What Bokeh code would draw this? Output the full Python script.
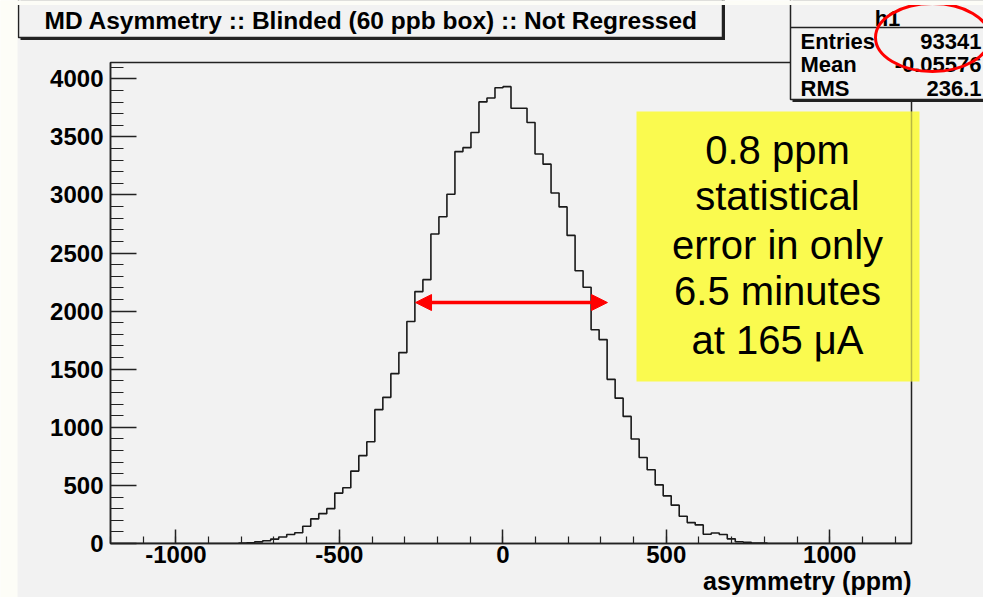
from bokeh.plotting import figure
from bokeh.models import (Range1d, SingleIntervalTicker, Arrow, NormalHead,
                          NumeralTickFormatter)
from bokeh.core.properties import value
from bokeh.embed import file_html
from bokeh.resources import INLINE

# ---------------- data ----------------
x_min, x_max = -1200.0, 1250.0
n_bins = 100
first_bin = 16
counts_nonzero = [
    3, 6, 14, 24, 38, 56, 78, 92, 148, 212,
    257, 300, 434, 480, 623, 756, 876, 1152, 1258, 1462,
    1643, 1911, 2168, 2271, 2664, 2812, 3006, 3373, 3407, 3538,
    3801, 3835, 3923, 3932, 3746, 3746, 3624, 3353, 3265, 3017,
    2897, 2652, 2348, 2205, 1840, 1755, 1413, 1251, 1094, 900,
    740, 635, 505, 410, 330, 235, 180, 160, 80, 90,
    78, 40, 15, 10, 4, 3,
]
y_max = 4140

title_text = "MD Asymmetry :: Blinded (60 ppb box) :: Not Regressed"
stats_name = "h1"
stats_labels = ["Entries", "Mean", "RMS"]
stats_values = ["93341", "-0.05576", "236.1"]
x_label = "asymmetry (ppm)"
note_lines = ["0.8 ppm", "statistical", "error in only", "6.5 minutes", "at 165 \u03bcA"]
arrow_x = [-267, 320]
arrow_y = 2074

counts = [0] * first_bin + counts_nonzero + [0] * (n_bins - first_bin - len(counts_nonzero))
bin_width = (x_max - x_min) / n_bins
edges = [x_min + i * bin_width for i in range(n_bins + 1)]

# ---------------- layout ----------------
W, H = 983, 597
L, R, T, B = 110, 911, 62, 543
GRAY = "#f2f2f2"
INK = "#222222"
FONT = "Liberation Sans"

p = figure(width=W, height=H, output_backend="svg", toolbar_location=None,
           x_range=Range1d(x_min, x_max), y_range=Range1d(0, y_max),
           min_border_left=L, min_border_right=W - R,
           min_border_top=T, min_border_bottom=H - B)
p.background_fill_color = GRAY
p.border_fill_color = GRAY
p.outline_line_color = INK
p.outline_line_width = 1.5
p.grid.visible = False

p.xaxis.ticker = SingleIntervalTicker(interval=500, num_minor_ticks=5)
p.yaxis.ticker = SingleIntervalTicker(interval=500, num_minor_ticks=5)
for ax in (p.xaxis[0], p.yaxis[0]):
    ax.formatter = NumeralTickFormatter(format="0")
    ax.major_tick_out = 0
    ax.minor_tick_out = 0
    ax.axis_line_color = INK
    ax.axis_line_width = 1.5
    ax.major_tick_line_color = INK
    ax.major_tick_line_width = 1.5
    ax.minor_tick_line_color = INK
    ax.minor_tick_line_width = 1.2
    ax.major_label_text_font = FONT
    ax.major_label_text_font_style = "bold"
    ax.major_label_text_font_size = "24px"
    ax.major_label_text_color = "black"
p.xaxis.major_tick_in = 14
p.xaxis.minor_tick_in = 7
p.xaxis.major_label_standoff = 2
p.yaxis.major_tick_in = 26
p.yaxis.minor_tick_in = 13
p.yaxis.major_label_standoff = 7

# histogram outline
p.step(x=edges, y=counts + [counts[-1]], mode="after", line_color="#1a1a1a", line_width=1.6)

# red double arrow
p.add_layout(Arrow(x_start=arrow_x[0], y_start=arrow_y, x_end=arrow_x[1], y_end=arrow_y,
                   start=NormalHead(size=16, fill_color="red", line_color="red"),
                   end=NormalHead(size=16, fill_color="red", line_color="red"),
                   line_color="red", line_width=3.5))

# ---------------- overlay (page-pixel coordinates) ----------------
ov = figure(width=W, height=H, output_backend="svg", toolbar_location=None,
            x_range=Range1d(0, W), y_range=Range1d(H, 0),
            x_axis_location=None, y_axis_location=None, min_border=0,
            styles={"position": "absolute", "left": "0px", "top": "0px"})
ov.grid.visible = False
ov.outline_line_color = None
ov.background_fill_alpha = 0
ov.border_fill_alpha = 0


def txt(x, y, s, size, bold=False, align="left"):
    ov.text(x=[x], y=[y], text=[s], text_font=value(FONT), text_font_size=size,
            text_font_style="bold" if bold else "normal", text_align=align,
            text_baseline="middle", text_color="black")


# yellow note (frame edge faintly visible through it)
ov.quad(left=636, right=919, top=111, bottom=381, fill_color="#fafa4f", line_alpha=0)
ov.segment(x0=R, y0=111, x1=R, y1=381, line_color=INK, line_alpha=0.3, line_width=1.5)
for s, yc in zip(note_lines, [149, 195.5, 244, 290.5, 339]):
    txt(777, yc, s, "40px", align="center")

# x-axis title
txt(R, 580, x_label, "25px", bold=True, align="right")

# title box with shadow
ov.quad(left=20, right=724.5, top=-3, bottom=39.5, fill_color=INK, line_alpha=0)
ov.quad(left=18, right=722, top=-3, bottom=37, fill_color=GRAY, line_color=INK, line_width=1.5)
txt(44, 20, title_text, "24.5px", bold=True)

# stats box
ov.quad(left=792, right=1000, top=-3, bottom=101.5, fill_color=INK, line_alpha=0)
ov.quad(left=790, right=998, top=-3, bottom=99, fill_color=GRAY, line_color=INK, line_width=1.5)
ov.segment(x0=790, y0=27, x1=998, y1=27, line_color=INK, line_width=1.5)
txt(887, 17.5, stats_name, "22px", bold=True, align="center")
for lab, val, yc in zip(stats_labels, stats_values, [40.5, 64, 87.5]):
    txt(800, yc, lab, "22px", bold=True)
    txt(981, yc, val, "22px", bold=True, align="right")

# red ellipse around the entries value
ov.ellipse(x=932, y=37, width=114, height=68, fill_alpha=0, line_color="red", line_width=3)

# page margin strips
ov.quad(left=-5, right=17, top=-5, bottom=605, fill_color="#fdfdf7", line_alpha=0)
ov.quad(left=-5, right=990, top=-5, bottom=4.5, fill_color="#fdfdf7", line_alpha=0)

open("out.html", "w").write(file_html([p, ov], INLINE))
